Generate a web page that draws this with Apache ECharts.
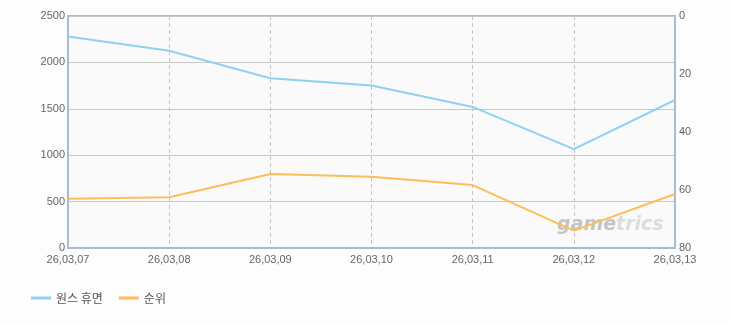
<!DOCTYPE html>
<html><head><meta charset="utf-8">
<script src="https://cdn.jsdelivr.net/npm/echarts@6/dist/echarts.min.js"></script>
<style>html,body{margin:0;padding:0;background:#fdfdfd}#c{width:730px;height:325px}</style>
</head><body><div id="c"></div>
<script>
const categories = ['26,03,07','26,03,08','26,03,09','26,03,10','26,03,11','26,03,12','26,03,13'];
const dormantValues = [2280, 2125, 1830, 1750, 1520, 1065, 1595];
const rankValues = [63, 62.5, 54.5, 55.4, 58.3, 74, 61.4];
const leftTicks = [0, 500, 1000, 1500, 2000, 2500];
const rightTicks = [0, 20, 40, 60, 80];
const seriesNames = ['원스 휴면', '순위'];

const chart = echarts.init(document.getElementById('c'));
const font = 'Liberation Sans, Arial, sans-serif';
chart.setOption({
  backgroundColor: '#fdfdfd',
  animation: false,
  legend: {
    left: 26, bottom: 16, itemWidth: 20, itemHeight: 3, itemGap: 16,
    icon: 'rect',
    textStyle: {color: '#555', fontSize: 12, fontFamily: 'Noto Sans CJK KR, sans-serif'},
    data: seriesNames
  },
  grid: {left: 68, right: 55, top: 16, bottom: 77, show: true, backgroundColor: '#fafafa', borderColor: '#a9bbd1', borderWidth: 2},
  xAxis: {
    type: 'category', data: categories, boundaryGap: false,
    axisLine: {lineStyle: {color: '#a9bbd1', width: 2}},
    axisTick: {show: false},
    axisLabel: {color: '#666', fontSize: 11, fontFamily: font, margin: 6, showMinLabel: true, showMaxLabel: true, interval: 0},
    splitLine: {show: true, lineStyle: {color: '#c4c4c4', type: [4, 3]}}
  },
  yAxis: [{
    type: 'value', min: leftTicks[0], max: leftTicks[leftTicks.length-1], interval: 500,
    axisLine: {show: true, lineStyle: {color: '#a9bbd1', width: 2}},
    axisTick: {show: false},
    axisLabel: {color: '#666', fontSize: 11, fontFamily: font, margin: 3, formatter: v => String(v)},
    splitLine: {lineStyle: {color: '#c8c8c8'}}
  }, {
    type: 'value', min: rightTicks[0], max: rightTicks[rightTicks.length-1], interval: 20, inverse: true,
    position: 'right',
    axisLine: {show: true, lineStyle: {color: '#a9bbd1', width: 2}},
    axisTick: {show: false},
    axisLabel: {color: '#666', fontSize: 11, fontFamily: font, margin: 4, formatter: v => String(v)},
    splitLine: {show: false}
  }],
  graphic: [{
    type: 'text', left: 557, top: 216, z: 1, silent: true,
    style: {
      text: '{a|game}{b|trics}',
      rich: {
        a: {fontSize: 19, fontStyle: 'italic', fontWeight: 'bold', fill: '#c4c4c4', fontFamily: 'DejaVu Sans, sans-serif'},
        b: {fontSize: 19, fontStyle: 'italic', fontWeight: 'bold', fill: '#dcdcdc', fontFamily: 'DejaVu Sans, sans-serif'}
      }
    }
  }],
  series: [{
    name: seriesNames[0], type: 'line', data: dormantValues, yAxisIndex: 0,
    showSymbol: false, symbol: 'none', z: 3,
    lineStyle: {color: '#8fd1f2', width: 2}, itemStyle: {color: '#8fd1f2'}
  }, {
    name: seriesNames[1], type: 'line', data: rankValues, yAxisIndex: 1,
    showSymbol: false, symbol: 'none', z: 3,
    lineStyle: {color: '#fdbd5a', width: 2}, itemStyle: {color: '#fdbd5a'}
  }]
});
</script></body></html>
